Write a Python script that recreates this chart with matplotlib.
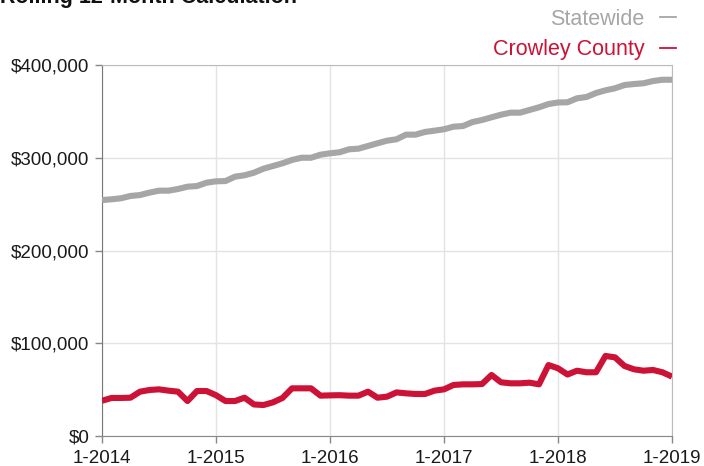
import matplotlib.pyplot as plt
from matplotlib.lines import Line2D
import numpy as np

plt.rcParams['font.family'] = ['Liberation Sans', 'DejaVu Sans']

# Monthly points, Jan 2014 .. Jan 2019
tick_labels = ["1-2014", "1-2015", "1-2016", "1-2017", "1-2018", "1-2019"]

statewide = [
    254400, 255200, 256300, 258800, 259800, 262400, 264500, 264500, 266300, 268800,
    269500, 273100, 274600, 274900, 279600, 281100, 283900, 288200, 291100, 294000,
    297600, 300000, 300000, 303300, 304800, 305900, 309100, 309800, 312700, 315600,
    318400, 319900, 324900, 324900, 327800, 329200, 330700, 333500, 334200, 338500,
    340700, 343600, 346400, 348600, 348600, 351500, 354400, 357900, 359600, 359800,
    364100, 365500, 369800, 372700, 374900, 378400, 379500, 380300, 382700, 384100,
    384100,
]

crowley = [
    38000, 41000, 41000, 41300, 47800, 49600, 50300, 48900, 47800, 37700,
    48500, 48500, 44000, 37700, 37700, 41300, 34000, 33400, 36300, 41000,
    51400, 51400, 51400, 43500, 43800, 44000, 43500, 43500, 47800, 41300,
    42400, 47000, 46000, 45300, 45300, 48900, 50300, 55000, 55700, 55700,
    56000, 65800, 57900, 56800, 56800, 57500, 55700, 76500, 73000, 66300,
    70400, 68700, 68700, 86300, 84800, 75500, 71900, 70400, 71200, 68700,
    64000,
]

gray = "#a6a6a6"
red = "#cc1236"

fig = plt.figure(figsize=(7.04, 4.66), dpi=100)
ax = fig.add_axes([102 / 704, 1 - 436 / 466, 570 / 704, 371 / 466])

months = np.arange(len(statewide))
ax.plot(months, statewide, color=gray, lw=4.4, solid_capstyle='butt', zorder=3)
ax.plot(months, crowley, color=red, lw=4.4, solid_capstyle='butt', zorder=3)

ax.set_xlim(0, 60)
ax.set_ylim(0, 400000)
ax.set_xticks(np.arange(0, 61, 12))
ax.set_xticklabels(tick_labels)
ax.set_yticks([0, 100000, 200000, 300000, 400000])
ax.set_yticklabels(["$0", "$100,000", "$200,000", "$300,000", "$400,000"])

ax.grid(True, color="#e3e3e3", lw=1)
ax.set_axisbelow(True)
ax.tick_params(axis='both', labelsize=13.5, colors="#888888", labelcolor="#1a1a1a",
               length=5, width=1)
ax.tick_params(axis='x', pad=5)
ax.tick_params(axis='y', pad=4)

ax.spines['left'].set_color("#777777")
ax.spines['bottom'].set_color("#888888")
ax.spines['top'].set_color("#bbbbbb")
ax.spines['right'].set_color("#bbbbbb")

# Title sits partly above the top edge, as in the source image
fig.text(0.0, 1 - 3 / 466, "Rolling 12-Month Calculation", fontsize=15.5,
         fontweight='bold', color="#111111", ha='left', va='baseline')

handles = [Line2D([], [], color=gray, lw=1.3), Line2D([], [], color=red, lw=1.3)]
fig.legend(handles, ["Statewide", "Crowley County"], loc='upper right',
           bbox_to_anchor=(676 / 704, 1 - 9 / 466), frameon=False,
           markerfirst=False, labelcolor=[gray, red], fontsize=15.5,
           handlelength=0.75, handletextpad=0.7, labelspacing=0.42,
           borderpad=0, borderaxespad=0)

fig.savefig("out.png", dpi=100)
